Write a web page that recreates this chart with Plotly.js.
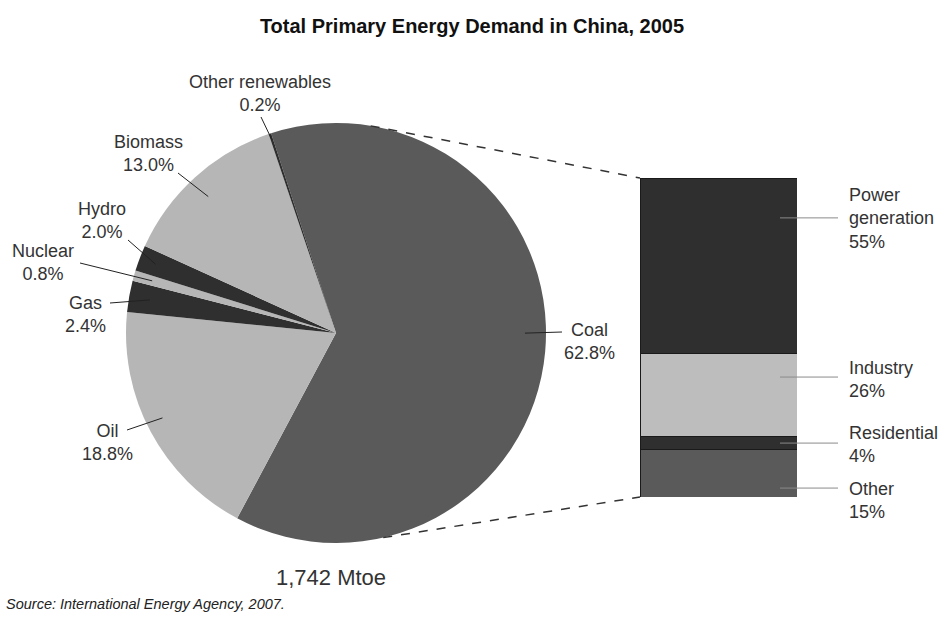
<!DOCTYPE html>
<html><head><meta charset="utf-8">
<script src="https://cdn.plot.ly/plotly-3.0.1.min.js"></script>
<style>html,body{margin:0;padding:0;background:#fff}#chart{width:944px;height:623px}</style>
</head><body><div id="chart"></div>
<script>
// ---- data ----
const fuelLabels = ['Coal','Oil','Gas','Nuclear','Hydro','Biomass','Other renewables'];
const fuelShares = [62.8, 18.8, 2.4, 0.8, 2.0, 13.0, 0.2];
const sectorLabels = ['Power generation','Industry','Residential','Other'];
const sectorShares = [55, 26, 4, 15];
const totalText = '1,742 Mtoe';
const titleText = 'Total Primary Energy Demand in China, 2005';
const sourceText = 'Source: International Energy Agency, 2007.';

// ---- styles ----
const W = 944, H = 623;
const FONT = 'Liberation Sans, Arial, sans-serif';
const DARK = '#2f2f2f', MID = '#5a5a5a', LIGHT = '#b6b6b6';
const fuelColors = [MID, LIGHT, DARK, LIGHT, DARK, LIGHT, DARK];
const sectorColors = [DARK, '#bdbdbd', DARK, MID];
const pieCx = 336, pieCy = 333, pieR = 210, rotation = -18;
const barLeft = 640, barRight = 797, barTop = 178, barBottom = 497;
// label placement (pixels) for pie labels: text centre, line tail, angle nudge, radial fraction
const fuelTextPos = [[589,341],[107,442],[85,314],[43,262],[102,220],[148,153],[260,93]];
const fuelLineTail = [[562,332],[127,430],[110,303],[80,263],[128,240],[178,173],[261,117]];
const fuelAngleNudge = [-5, 2, 0, 0, 0, -1, 0];
const fuelRadFrac = [0.9, 0.92, 0.9, 0.91, 0.92, 0.89, 0.97];
// sector labels: text centre y (px), line y (in bar %)
const sectorTextY = [218, 379, 444, 500];
const sectorLineY = [87.5, 37.6, 16.9, 2.8];
const sectorLineX = [780, 838];

const px = x => x / W, py = y => 1 - y / H;
const barPctToPaper = v => py(barBottom - (barBottom - barTop) * v / 100);

const traces = [];
traces.push({
  type: 'pie', labels: fuelLabels, values: fuelShares, sort: false,
  direction: 'clockwise', rotation: rotation, textinfo: 'none', hoverinfo: 'label+percent',
  marker: {colors: fuelColors, line: {width: 0}},
  domain: {x: [px(pieCx - pieR), px(pieCx + pieR)], y: [py(pieCy + pieR), py(pieCy - pieR)]},
  showlegend: false
});
// stacked bar, bottom first
for (let i = sectorLabels.length - 1; i >= 0; i--) {
  traces.push({
    type: 'bar', x: [0], y: [sectorShares[i]], name: sectorLabels[i], width: 1,
    marker: {color: sectorColors[i], line: {color: '#1a1a1a', width: 1}},
    hoverinfo: 'name+y', showlegend: false
  });
}

const annotations = [];
const shapes = [];
let cum = 0;
fuelLabels.forEach((lab, i) => {
  const mid = rotation + (cum + fuelShares[i] / 2) * 3.6 + fuelAngleNudge[i];
  cum += fuelShares[i];
  const a = mid * Math.PI / 180;
  const hx = pieCx + pieR * fuelRadFrac[i] * Math.sin(a);
  const hy = pieCy - pieR * fuelRadFrac[i] * Math.cos(a);
  const [tx, ty] = fuelLineTail[i];
  shapes.push({type: 'line', xref: 'paper', yref: 'paper', x0: px(tx), y0: py(ty), x1: px(hx), y1: py(hy),
    line: {color: '#222', width: 1}});
  annotations.push({xref: 'paper', yref: 'paper', x: px(fuelTextPos[i][0]), y: py(fuelTextPos[i][1]),
    xanchor: 'center', yanchor: 'middle', showarrow: false,
    text: lab + '<br>' + fuelShares[i].toFixed(1) + '%', font: {family: FONT, size: 18, color: '#333'}});
});

sectorLabels.forEach((lab, i) => {
  shapes.push({type: 'line', xref: 'paper', yref: 'paper', x0: px(sectorLineX[0]), x1: px(sectorLineX[1]),
    y0: barPctToPaper(sectorLineY[i]), y1: barPctToPaper(sectorLineY[i]), line: {color: '#8a8a8a', width: 1}});
  annotations.push({xref: 'paper', yref: 'paper', x: px(847), y: py(sectorTextY[i]),
    xanchor: 'left', yanchor: 'middle', align: 'left', showarrow: false,
    text: lab.replace(' ', '<br>') + '<br>' + sectorShares[i] + '%', font: {family: FONT, size: 18, color: '#333'}});
});

// dashed connectors from the coal slice to the bar
const topA = 9.5 * Math.PI / 180, botA = 167 * Math.PI / 180;
shapes.push({type: 'line', xref: 'paper', yref: 'paper',
  x0: px(pieCx + pieR * Math.sin(topA)), y0: py(pieCy - pieR * Math.cos(topA)),
  x1: px(barLeft), y1: py(barTop), line: {color: '#333', width: 1.5, dash: 'dash'}});
shapes.push({type: 'line', xref: 'paper', yref: 'paper',
  x0: px(pieCx + pieR * Math.sin(botA)), y0: py(pieCy - pieR * Math.cos(botA)),
  x1: px(barLeft), y1: py(barBottom), line: {color: '#333', width: 1.5, dash: 'dash'}});

annotations.push({xref: 'paper', yref: 'paper', x: px(331), y: py(577), xanchor: 'center', yanchor: 'middle',
  showarrow: false, text: totalText, font: {family: FONT, size: 22, color: '#333'}});
annotations.push({xref: 'paper', yref: 'paper', x: px(4), y: py(604), xanchor: 'left', yanchor: 'middle',
  showarrow: false, text: '<i>' + sourceText + '</i>', font: {family: FONT, size: 14.5, color: '#222'}});

const layout = {
  width: W, height: H, margin: {l: 0, r: 0, t: 0, b: 0},
  paper_bgcolor: '#fff', plot_bgcolor: 'rgba(0,0,0,0)',
  title: {text: '<b>' + titleText + '</b>', x: px(472), xanchor: 'center', y: py(26), yanchor: 'middle',
    font: {family: FONT, size: 20, color: '#111'}},
  barmode: 'stack', bargap: 0,
  xaxis: {domain: [px(barLeft), px(barRight)], range: [-0.5, 0.5], visible: false, fixedrange: true},
  yaxis: {domain: [py(barBottom), py(barTop)], range: [0, 100], visible: false, fixedrange: true},
  showlegend: false, annotations: annotations, shapes: shapes
};
Plotly.newPlot('chart', traces, layout, {displayModeBar: false, staticPlot: true});
</script></body></html>
